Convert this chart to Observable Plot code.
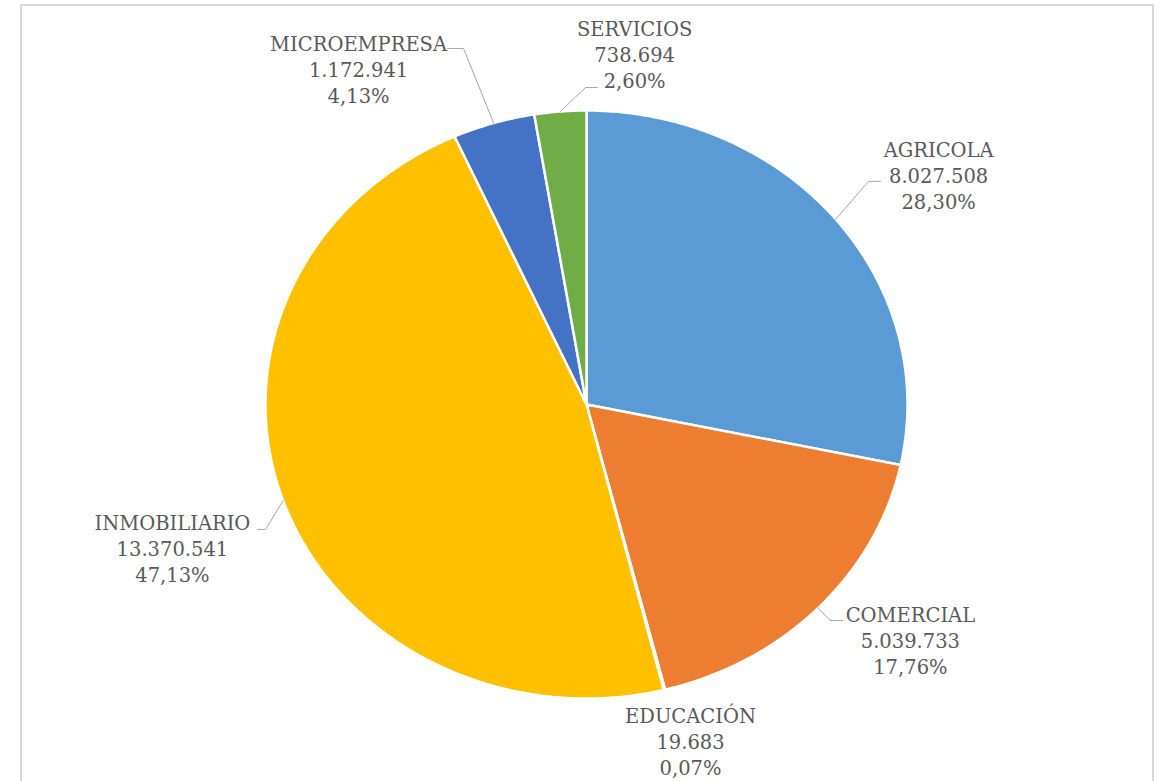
<!DOCTYPE html>
<html>
<head>
<meta charset="utf-8">
<script src="https://cdn.jsdelivr.net/npm/d3@7"></script>
<script src="https://cdn.jsdelivr.net/npm/@observablehq/plot@0.6"></script>
<style>
  html, body { margin: 0; padding: 0; background: #fff; overflow: hidden; }
  #wrap { position: relative; width: 1168px; height: 781px; }
  #frame { position: absolute; left: 20px; top: 4px; width: 1134px; height: 800px;
           border: 2px solid #d9d9d9; box-sizing: border-box; }
  #chart { position: absolute; left: 0; top: 0; }
</style>
</head>
<body>
<div id="wrap"><div id="frame"></div><div id="chart"></div></div>
<script>
// ---- data ----
const categories = ["AGRICOLA", "COMERCIAL", "EDUCACIÓN", "INMOBILIARIO", "MICROEMPRESA", "SERVICIOS"];
const amounts    = [8027508, 5039733, 19683, 13370541, 1172941, 738694];
const percentLabels = ["28,30%", "17,76%", "0,07%", "47,13%", "4,13%", "2,60%"];
const valueLabels   = ["8.027.508", "5.039.733", "19.683", "13.370.541", "1.172.941", "738.694"];
const colors = ["#5B9BD5", "#ED7D31", "#A5A5A5", "#FFC000", "#4472C4", "#70AD47"];

// ---- label layout (in normalized pie units: x right, y down, radius 1) ----
const labelPos = {
  "AGRICOLA":     {lx: 1.097, ly: -0.782, elbow: [0.879, -0.759], tail: [0.916, -0.759]},
  "COMERCIAL":    {lx: 1.009, ly: 0.799,  elbow: [0.760, 0.735],  tail: [0.798, 0.735]},
  "EDUCACIÓN":    {lx: 0.324, ly: 1.143,  elbow: null, tail: null},
  "INMOBILIARIO": {lx: -1.290, ly: 0.486, elbow: [-1.0, 0.425],   tail: [-1.025, 0.425]},
  "MICROEMPRESA": {lx: -0.710, ly: -1.143, elbow: [-0.383, -1.211], tail: [-0.433, -1.211]},
  "SERVICIOS":    {lx: 0.150, ly: -1.194, elbow: [-0.003, -1.078], tail: [0.034, -1.078]}
};

const total = d3.sum(amounts);
const rows = categories.map((c, i) => ({cat: c, value: amounts[i], color: colors[i],
  label: c + "\n" + valueLabels[i] + "\n" + percentLabels[i]}));

// clockwise from 12 o'clock, in data order
const arcs = d3.pie().value(d => d.value).sort(null)(rows);

const marks = [];
for (const a of arcs) {
  const pts = [{x: 0, y: 0}];
  const n = Math.max(2, Math.ceil((a.endAngle - a.startAngle) / (Math.PI / 360)));
  for (let k = 0; k <= n; k++) {
    const t = a.startAngle + (a.endAngle - a.startAngle) * k / n;
    pts.push({x: Math.sin(t), y: -Math.cos(t)});
  }
  pts.push({x: 0, y: 0});
  marks.push(Plot.line(pts, {x: "x", y: "y", fill: a.data.color, stroke: "white",
    strokeWidth: 2.5, strokeLinejoin: "miter"}));
}

// leader lines
for (const a of arcs) {
  const L = labelPos[a.data.cat];
  if (!L.elbow) continue;
  const m = (a.startAngle + a.endAngle) / 2;
  const path = [
    {x: Math.sin(m), y: -Math.cos(m)},
    {x: L.elbow[0], y: L.elbow[1]},
    {x: L.tail[0], y: L.tail[1]}
  ];
  marks.push(Plot.line(path, {x: "x", y: "y", stroke: "#a6a6a6", strokeWidth: 1}));
}

// labels
const labelRows = rows.map(r => ({...r, lx: labelPos[r.cat].lx, ly: labelPos[r.cat].ly}));
marks.push(Plot.text(labelRows, {x: "lx", y: "ly", text: "label", fill: "#595959",
  fontSize: 19.5, fontFamily: "DejaVu Serif", lineHeight: 26 / 19.5,
  textAnchor: "middle", lineAnchor: "middle"}));

const chart = Plot.plot({
  width: 1168, height: 781,
  margin: 0,
  style: {background: "transparent", overflow: "visible"},
  x: {domain: [-1, 1], range: [265, 907], axis: null},
  y: {domain: [-1, 1], range: [110, 698], axis: null},
  marks
});
document.getElementById("chart").appendChild(chart);
</script>
</body>
</html>
